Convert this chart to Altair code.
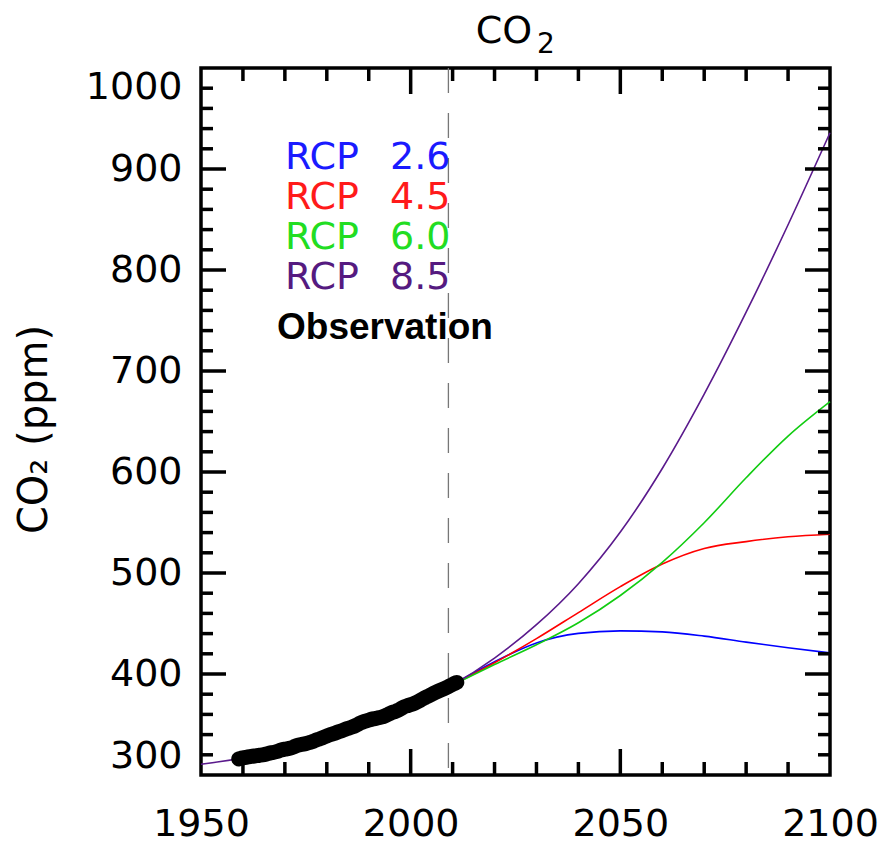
import altair as alt
import pandas as pd

# ---- data ----
proj_years = [2010, 2020, 2030, 2040, 2050, 2060, 2070, 2080, 2090, 2100]
rcp26 = [389.1, 412.1, 430.8, 440.2, 442.7, 441.7, 437.5, 431.6, 426.0, 420.9]
rcp45 = [389.1, 411.1, 435.0, 460.8, 486.5, 508.9, 524.3, 531.1, 535.9, 538.4]
rcp60 = [389.1, 409.4, 428.9, 450.7, 477.7, 510.6, 549.8, 594.3, 635.6, 669.7]
rcp85 = [389.3, 415.8, 448.8, 489.4, 540.5, 603.5, 677.1, 758.2, 844.8, 935.9]

hist_years = [1950, 1960, 1970, 1980, 1990, 2000]
hist_vals = [310.7, 316.9, 325.7, 338.7, 354.2, 369.1]

obs_years = list(range(1959, 2012))
obs_vals = [315.98, 316.91, 317.64, 318.45, 318.99, 319.62, 320.04, 321.38, 322.16,
            323.04, 324.62, 325.68, 326.32, 327.46, 329.68, 330.18, 331.11, 332.04,
            333.83, 335.40, 336.84, 338.75, 340.11, 341.45, 343.05, 344.65, 346.12,
            347.42, 349.19, 351.57, 353.12, 354.39, 355.61, 356.45, 357.10, 358.83,
            360.82, 362.61, 363.73, 366.70, 368.38, 369.55, 371.14, 373.28, 375.80,
            377.52, 379.80, 381.90, 383.79, 385.60, 387.43, 389.90, 391.65]

scenarios = ["RCP 2.6", "RCP 4.5", "RCP 6.0", "RCP 8.5"]
scenario_nums = ["2.6", "4.5", "6.0", "8.5"]
line_colors = ["#0000ff", "#ff0000", "#11cc11", "#5a1a8c"]
text_colors = ["#1a1aff", "#ff1a1a", "#22dd22", "#551a80"]

x_labels = [1950, 2000, 2050, 2100]
y_labels = [300, 400, 500, 600, 700, 800, 900, 1000]
x_major_ticks = [2000, 2050]
x_minor_ticks = [1960, 1970, 1980, 1990, 2010, 2020, 2030, 2040, 2060, 2070, 2080, 2090]
y_major_ticks = [400, 500, 600, 700, 800, 900]
y_minor_ticks = [v for v in range(320, 1000, 20) if v % 100 != 0]
present_year = 2009

# ---- tables ----
rows = []
for name, vals in zip(scenarios, [rcp26, rcp45, rcp60, rcp85]):
    yrs = proj_years
    vs = vals
    if name == "RCP 8.5":
        yrs = hist_years + proj_years
        vs = hist_vals + vals
    for y, v in zip(yrs, vs):
        rows.append({"year": y, "ppm": v, "scenario": name})
lines_df = pd.DataFrame(rows)
obs_df = pd.DataFrame({"year": obs_years, "ppm": obs_vals})

W, H = 629, 707
FONT = "DejaVu Sans"

xscale = alt.Scale(domain=[1950, 2100], nice=False, zero=False)
yscale = alt.Scale(domain=[300, 1000], nice=False, zero=False)
xaxis = alt.Axis(values=x_labels, format="d", ticks=False, domain=False, grid=False,
                 labelFont=FONT, labelFontSize=38, labelColor="black",
                 labelPadding=30, labelFlush=False, title=None)
yaxis = alt.Axis(values=y_labels, format="d", ticks=False, domain=False, grid=False,
                 labelFont=FONT, labelFontSize=38, labelColor="black",
                 labelPadding=19, labelFlush=True,
                 title="CO₂ (ppm)", titleFont=FONT, titleFontSize=40,
                 titleFontWeight="normal", titleColor="black", titleAngle=270,
                 titleX=-167, titleY=361, titleAlign="center", titleBaseline="middle")

X = alt.X("year:Q", scale=xscale, axis=xaxis)
Y = alt.Y("ppm:Q", scale=yscale, axis=yaxis)

lines = alt.Chart(lines_df).mark_line(strokeWidth=1.6, interpolate="monotone").encode(
    x=X, y=Y,
    color=alt.Color("scenario:N", scale=alt.Scale(domain=scenarios, range=line_colors), legend=None),
)

obs = alt.Chart(obs_df).mark_line(color="black", strokeWidth=15, strokeCap="round",
                                  strokeJoin="round", interpolate="basis").encode(x=X, y=Y)

dash = alt.Chart(pd.DataFrame({"year": [present_year]})).mark_rule(
    color="#777777", strokeWidth=1.3, strokeDash=[25, 20]).encode(x=X)

def xticks(vals, length):
    df = pd.DataFrame({"year": vals})
    bot = alt.Chart(df).mark_rule(color="black", strokeWidth=3.5).encode(
        x=X, y=alt.value(H), y2=alt.value(H - length))
    top = alt.Chart(df).mark_rule(color="black", strokeWidth=3.5).encode(
        x=X, y=alt.value(0), y2=alt.value(length))
    return [bot, top]

def yticks(vals, length):
    df = pd.DataFrame({"ppm": vals})
    left = alt.Chart(df).mark_rule(color="black", strokeWidth=3.5).encode(
        y=Y, x=alt.value(0), x2=alt.value(length))
    right = alt.Chart(df).mark_rule(color="black", strokeWidth=3.5).encode(
        y=Y, x=alt.value(W), x2=alt.value(W - length))
    return [left, right]

tick_layers = (xticks(x_major_ticks, 26) + xticks(x_minor_ticks, 13)
               + yticks(y_major_ticks, 25) + yticks(y_minor_ticks, 12))

one = pd.DataFrame({"a": [0]})
texts = []
legend_y = [90, 130, 170, 210]
for num, col, ly in zip(scenario_nums, text_colors, legend_y):
    texts.append(alt.Chart(one).mark_text(text="RCP", font=FONT, fontSize=38, color=col,
                                          align="left", baseline="middle").encode(
        x=alt.value(84), y=alt.value(ly)))
    texts.append(alt.Chart(one).mark_text(text=num, font=FONT, fontSize=38, color=col,
                                          align="left", baseline="middle").encode(
        x=alt.value(189), y=alt.value(ly)))
texts.append(alt.Chart(one).mark_text(text="Observation", font="Liberation Sans", fontSize=37,
                                      fontWeight="bold", color="black",
                                      align="left", baseline="middle").encode(
    x=alt.value(76), y=alt.value(260)))
texts.append(alt.Chart(one).mark_text(text="CO", font=FONT, fontSize=38, color="black",
                                      align="center", baseline="middle").encode(
    x=alt.value(303), y=alt.value(-36)))
texts.append(alt.Chart(one).mark_text(text="2", font=FONT, fontSize=28, color="black",
                                      align="center", baseline="middle").encode(
    x=alt.value(345), y=alt.value(-23)))

chart = alt.layer(dash, lines, obs, *tick_layers, *texts).properties(
    width=W, height=H,
    background="white",
    autosize=alt.AutoSizeParams(type="none"),
    padding={"left": 193, "top": 60, "right": 49, "bottom": 68},
).configure_view(stroke="black", strokeWidth=3.5)

chart.save("out.html", embed_options={"renderer": "svg", "actions": False})
